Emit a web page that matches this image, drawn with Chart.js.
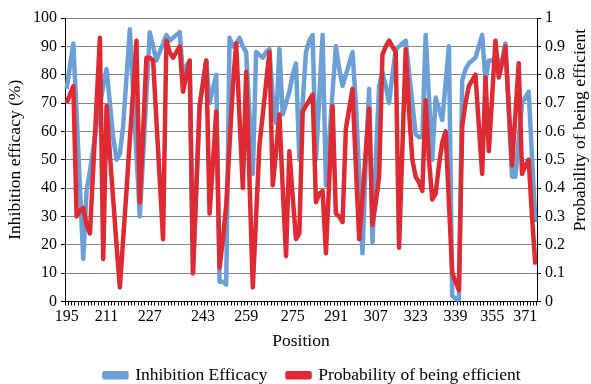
<!DOCTYPE html>
<html>
<head>
<meta charset="utf-8">
<script src="https://cdn.jsdelivr.net/npm/chart.js@4.4.0/dist/chart.umd.min.js"></script>
<style>
  html, body { margin: 0; padding: 0; background: #fff; }
</style>
</head>
<body>
<canvas id="posChart" width="591" height="384"></canvas>
<script>
// position labels shown on the x axis and the slot (data point) each one sits under
const tickLabels = ["195", "211", "227", "243", "259", "275", "291", "307", "323", "339", "355", "371"];
const tickSlots = [0, 12, 25, 41, 54, 68, 81, 93, 105, 117, 128, 138];

// inhibition efficacy (%), left axis
const efficacy = [
  75, 83, 91, 66, 40, 15, 39, 46, 54, 62,
  69, 76, 82, 70, 58, 50, 52, 62, 79, 96,
  74, 52, 30, 51, 73, 95, 90, 85, 88, 91,
  94, 92, 93, 94, 95, 80, 83, 85, 10, 40,
  69, 77, 85, 70, 75, 80, 7, 7, 6, 93,
  90, 91, 93, 90, 88, 66, 45, 88, 87, 86,
  88, 89, 72, 63, 89, 66, 70, 74, 80, 84,
  50, 70, 88, 92, 94, 50, 72, 94, 41, 57,
  74, 90, 82, 76, 80, 84, 88, 70, 45, 17,
  50, 75, 21, 50, 76, 81, 76, 70, 80, 89,
  90, 91, 92, 81, 70, 59, 58, 58, 94, 72,
  50, 72, 68, 64, 77, 90, 2, 1, 0, 78,
  82, 84, 85, 86, 90, 94, 78, 85, 85, 86,
  85, 85, 91, 67, 44, 44, 57, 70, 72, 74,
  51, 28
];

// probability of being efficient, right axis
const probability = [
  0.70, 0.73, 0.76, 0.30, 0.32, 0.33, 0.27, 0.24, 0.47, 0.70,
  0.93, 0.15, 0.69, 0.52, 0.36, 0.20, 0.05, 0.22, 0.39, 0.57,
  0.74, 0.92, 0.35, 0.60, 0.86, 0.86, 0.85, 0.64, 0.43, 0.22,
  0.92, 0.88, 0.86, 0.88, 0.90, 0.74, 0.80, 0.85, 0.10, 0.40,
  0.69, 0.77, 0.85, 0.31, 0.49, 0.67, 0.12, 0.22, 0.34, 0.55,
  0.76, 0.91, 0.65, 0.40, 0.81, 0.43, 0.05, 0.30, 0.55, 0.66,
  0.77, 0.88, 0.41, 0.53, 0.66, 0.40, 0.16, 0.53, 0.37, 0.22,
  0.24, 0.67, 0.69, 0.71, 0.73, 0.35, 0.38, 0.39, 0.17, 0.43,
  0.69, 0.31, 0.30, 0.28, 0.61, 0.68, 0.75, 0.48, 0.22, 0.37,
  0.53, 0.68, 0.27, 0.35, 0.44, 0.87, 0.90, 0.92, 0.90, 0.88,
  0.19, 0.54, 0.89, 0.67, 0.50, 0.44, 0.42, 0.39, 0.71, 0.50,
  0.36, 0.38, 0.48, 0.56, 0.60, 0.35, 0.10, 0.07, 0.04, 0.62,
  0.70, 0.76, 0.78, 0.80, 0.62, 0.45, 0.79, 0.53, 0.72, 0.92,
  0.79, 0.84, 0.90, 0.69, 0.48, 0.66, 0.84, 0.45, 0.48, 0.50,
  0.30, 0.13
];

const slotLabels = efficacy.map((v, i) => {
  const k = tickSlots.indexOf(i);
  return k >= 0 ? tickLabels[k] : "";
});

const serif = "'Liberation Serif', 'Times New Roman', serif";
const titleSize = 17.5;

// right axis title reads bottom-to-top, so draw it by hand
const rightTitle = {
  id: "rightTitle",
  afterLayout(chart) {
    // nudge the legend a bit right, like the original
    chart.legend.left += 17;
    chart.legend.right += 17;
  },
  afterDraw(chart) {
    const ctx = chart.ctx;
    ctx.save();
    ctx.translate(580, 130);
    ctx.rotate(-Math.PI / 2);
    ctx.font = titleSize + "px " + serif;
    ctx.fillStyle = "#000";
    ctx.textAlign = "center";
    ctx.textBaseline = "middle";
    ctx.fillText("Probability of being efficient", 0, 0);
    ctx.restore();
  }
};

const ctx = document.getElementById("posChart").getContext("2d");
new Chart(ctx, {
  type: "line",
  data: {
    labels: slotLabels,
    datasets: [
      {
        label: "Inhibition Efficacy",
        data: efficacy,
        yAxisID: "y",
        borderColor: "#6c9fd6",
        backgroundColor: "#6c9fd6",
        borderWidth: 4.5,
        borderJoinStyle: "round",
        pointRadius: 0,
        tension: 0,
        order: 2
      },
      {
        label: "Probability of being efficient",
        data: probability,
        yAxisID: "y1",
        borderColor: "#dd2a33",
        backgroundColor: "#dd2a33",
        borderWidth: 4.5,
        borderJoinStyle: "round",
        pointRadius: 0,
        tension: 0,
        order: 1
      }
    ]
  },
  options: {
    responsive: false,
    animation: false,
    layout: { padding: { top: 18, left: 0, right: 0, bottom: -10 } },
    plugins: {
      tooltip: { enabled: false },
      legend: {
        position: "bottom",
        labels: {
          font: { family: serif, size: titleSize },
          color: "#000",
          boxWidth: 22,
          boxHeight: 4,
          padding: 20,
          sort: (a, b) => a.datasetIndex - b.datasetIndex
        }
      }
    },
    scales: {
      x: {
        type: "category",
        offset: true,
        afterFit: (s) => { s.height = 45; },
        grid: {
          offset: true,
          drawOnChartArea: false,
          drawTicks: true,
          tickLength: 4,
          tickColor: "#000"
        },
        border: { color: "#000", width: 1 },
        ticks: {
          autoSkip: false,
          maxRotation: 0,
          minRotation: 0,
          padding: 2,
          color: "#000",
          font: { family: serif, size: 16 },
          callback: (v, i) => slotLabels[i]
        },
        title: {
          display: true,
          text: "Position",
          color: "#000",
          font: { family: serif, size: titleSize },
          padding: { top: 2, bottom: -5 }
        }
      },
      y: {
        position: "left",
        min: 0,
        max: 100,
        afterFit: (s) => { s.width = 65; },
        ticks: {
          stepSize: 10,
          color: "#000",
          padding: 4,
          font: { family: serif, size: 16 }
        },
        grid: {
          color: "#858585",
          tickColor: "#000",
          tickLength: 4
        },
        border: { color: "#000", width: 1 },
        title: {
          display: true,
          text: "Inhibition efficacy (%)",
          color: "#000",
          font: { family: serif, size: titleSize },
          padding: { top: 5, bottom: 0 }
        }
      },
      y1: {
        position: "right",
        min: 0,
        max: 1,
        afterFit: (s) => { s.width = 54; },
        ticks: {
          stepSize: 0.1,
          color: "#000",
          padding: 4,
          font: { family: serif, size: 16 },
          callback: (v) => Math.round(v * 10) / 10
        },
        grid: {
          drawOnChartArea: false,
          tickColor: "#000",
          tickLength: 4
        },
        border: { color: "#000", width: 1 }
      }
    }
  },
  plugins: [rightTitle]
});
</script>
</body>
</html>
